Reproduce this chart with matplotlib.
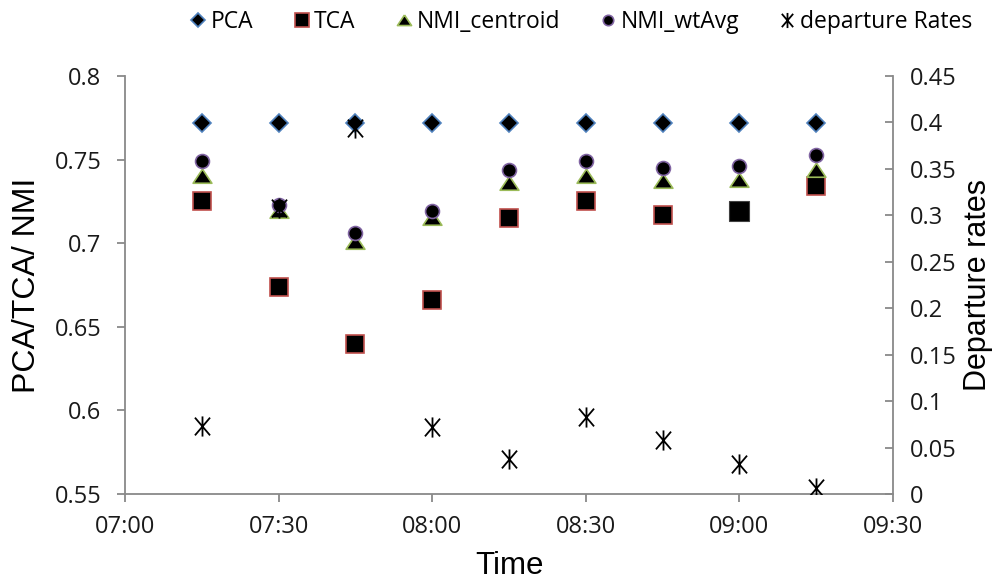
import matplotlib.pyplot as plt
import matplotlib.dates as mdates
from matplotlib.path import Path
from datetime import datetime

# time stamps and series values
times = ["07:15", "07:30", "07:45", "08:00", "08:15", "08:30", "08:45", "09:00", "09:15"]
pca = [0.772, 0.772, 0.772, 0.772, 0.772, 0.772, 0.772, 0.772, 0.772]
tca = [0.725, 0.674, 0.640, 0.666, 0.715, 0.725, 0.717, 0.719, 0.734]
nmi_centroid = [0.740, 0.719, 0.701, 0.715, 0.736, 0.740, 0.737, 0.738, 0.744]
nmi_wtavg = [0.749, 0.723, 0.706, 0.719, 0.744, 0.749, 0.745, 0.746, 0.753]
departure = [0.073, 0.308, 0.394, 0.072, 0.038, 0.083, 0.058, 0.032, 0.006]

left_ticks = [0.55, 0.6, 0.65, 0.7, 0.75, 0.8]
right_ticks = [0, 0.05, 0.1, 0.15, 0.2, 0.25, 0.3, 0.35, 0.4, 0.45]

x = [datetime.strptime("2000-01-01 " + t, "%Y-%m-%d %H:%M") for t in times]

blue = "#4f81bd"
red = "#c0504d"
green = "#9bbb59"
purple = "#8064a2"
axis_gray = "#898989"
tick_font = "Open Sans"
label_font = "Liberation Sans"

# excel style asterisk: vertical bar plus an X
star = Path([(0, -1), (0, 1), (-0.75, -0.88), (0.75, 0.88), (-0.75, 0.88), (0.75, -0.88)],
            [Path.MOVETO, Path.LINETO] * 3)
tri = [(0, 0.78), (-1, -0.72), (1, -0.72), (0, 0.78)]

fig = plt.figure(figsize=(9.97, 5.82), dpi=100)
ax = fig.add_axes([0.1254, 0.1512, 0.7703, 0.7182])
ax2 = ax.twinx()

ew = 1.2
h1, = ax.plot(x, pca, ls="none", marker="D", ms=9.5, mfc="black", mec=blue, mew=ew, label="PCA")
h2, = ax.plot(x, tca, ls="none", marker="s", ms=12.5, mfc="black", mec=red, mew=ew, label="TCA")
# the 09:00 TCA point has a plain black border in the original
i9 = times.index("09:00")
ax.plot(x[i9], tca[i9], ls="none", marker="s", ms=14, mfc="black", mec="#404040", mew=0.8)
h3, = ax.plot(x, nmi_centroid, ls="none", marker=tri, ms=13.5, mfc="black", mec=green, mew=ew,
              label="NMI_centroid")
h4, = ax.plot(x, nmi_wtavg, ls="none", marker="o", ms=10, mfc="black", mec=purple, mew=ew,
              label="NMI_wtAvg")
h5, = ax2.plot(x, departure, ls="none", marker=star, ms=14.5, mec="black", mew=1.3,
               label="departure Rates")

ax.set_xlim(datetime(2000, 1, 1, 7, 0), datetime(2000, 1, 1, 9, 30))
ax.xaxis.set_major_locator(mdates.MinuteLocator(byminute=[0, 30]))
ax.xaxis.set_major_formatter(mdates.DateFormatter("%H:%M"))

ax.set_ylim(0.55, 0.8)
ax.set_yticks(left_ticks)
ax.set_yticklabels([f"{v:g}" for v in left_ticks])
ax2.set_ylim(0, 0.45)
ax2.set_yticks(right_ticks)
ax2.set_yticklabels([f"{v:g}" for v in right_ticks])

for a in (ax, ax2):
    a.spines["top"].set_visible(False)
    for s in a.spines.values():
        s.set_color(axis_gray)
        s.set_linewidth(1.3)
ax.spines["right"].set_visible(False)
ax2.spines["left"].set_visible(False)
ax2.spines["bottom"].set_visible(False)

ax.tick_params(axis="y", direction="out", length=6, width=1.3, color=axis_gray,
               labelsize=17, pad=11)
ax.tick_params(axis="x", direction="out", length=6, width=1.3, color=axis_gray,
               labelsize=17, pad=9)
ax2.tick_params(axis="y", direction="in", length=6, width=1.3, color=axis_gray,
                labelsize=17, pad=12)
for lbl in ax.get_xticklabels() + ax.get_yticklabels() + ax2.get_yticklabels():
    lbl.set_fontfamily(tick_font)
    lbl.set_color("#1a1a1a")

ax.set_xlabel("Time", fontsize=22.5, family=label_font, labelpad=9)
ax.set_ylabel("PCA/TCA/ NMI", fontsize=23, family=label_font, labelpad=9)
ax2.set_ylabel("Departure rates", fontsize=22, family=label_font, labelpad=5)

fig.legend(handles=[h1, h2, h3, h4, h5], loc="center", bbox_to_anchor=(0.583, 0.962),
           ncol=5, frameon=False, markerscale=0.75, handlelength=0.7, handletextpad=0.2,
           columnspacing=1.75, prop={"family": tick_font, "size": 16.5})

fig.savefig("out.png", dpi=100)
